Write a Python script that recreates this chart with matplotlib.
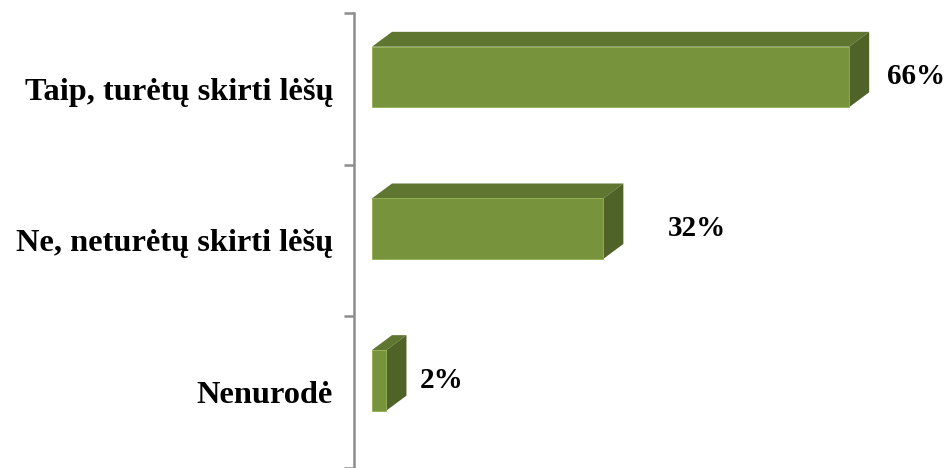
import matplotlib.pyplot as plt
from matplotlib.patches import Polygon

# ── data ──────────────────────────────────────────────────────────────────────
categories = ["Taip, turėtų skirti lėšų", "Ne, neturėtų skirti lėšų", "Nenurodė"]
values = [66, 32, 2]
value_labels = ["66%", "32%", "2%"]

# ── style ─────────────────────────────────────────────────────────────────────
CLR_FRONT = "#77933C"
CLR_TOP = "#5F7630"
CLR_SIDE = "#4F6228"
CLR_AXIS = "#8C8C8C"

plt.rcParams["font.family"] = ["Liberation Serif", "DejaVu Serif"]

fig = plt.figure(figsize=(9.48, 4.68), dpi=100)
# axes spans from spine (x=354px) to right edge, y from 13px to bottom
ax = fig.add_axes([354 / 948, 0, 1 - 354 / 948, (468 - 13) / 468])

px = 7.23            # pixels per percent
x0 = -18 / px        # gap between spine and bar front
cat_px = 153.0       # pixels per category
ax.set_xlim(x0, x0 + (948 - 354) / px)
ax.set_ylim(-0.5 + 455 / cat_px, -0.5)

dx = 20 / px                 # depth in x (percent units)
dy = 15 / cat_px             # depth in y (category units)
h = 61 / cat_px              # front face height
shift = -12 / cat_px         # front face centre offset from category centre
label_off = [2.5, 6.1, 1.9]  # gap from bar end to label (percent units)

for i, v in enumerate(values):
    c = i + shift
    top, bot = c - h / 2, c + h / 2
    ax.add_patch(Polygon([(0, top), (v, top), (v + dx, top - dy), (dx, top - dy)],
                         closed=True, fc=CLR_TOP, ec="none"))
    ax.add_patch(Polygon([(v, top), (v + dx, top - dy), (v + dx, bot - dy), (v, bot)],
                         closed=True, fc=CLR_SIDE, ec="none"))
    ax.add_patch(Polygon([(0, top), (v, top), (v, bot), (0, bot)],
                         closed=True, fc=CLR_FRONT, ec="#8FAE4F", lw=0.6))
    ax.text(v + dx + label_off[i], c, value_labels[i], fontsize=21,
            fontweight="bold", va="center", ha="left")

for s in ["top", "right", "bottom"]:
    ax.spines[s].set_visible(False)
ax.spines["left"].set_color(CLR_AXIS)
ax.spines["left"].set_linewidth(1.8)
ax.set_xticks([])

ax.set_yticks(range(len(categories)))
ax.set_yticklabels(categories, fontsize=23.3, fontweight="bold")
ax.tick_params(axis="y", which="major", length=0, pad=15)
ax.set_yticks([-0.5, 0.5, 1.5, 2.5], minor=True)
ax.tick_params(axis="y", which="minor", length=7, width=1.8, color=CLR_AXIS)

fig.savefig("out.png", dpi=100)
